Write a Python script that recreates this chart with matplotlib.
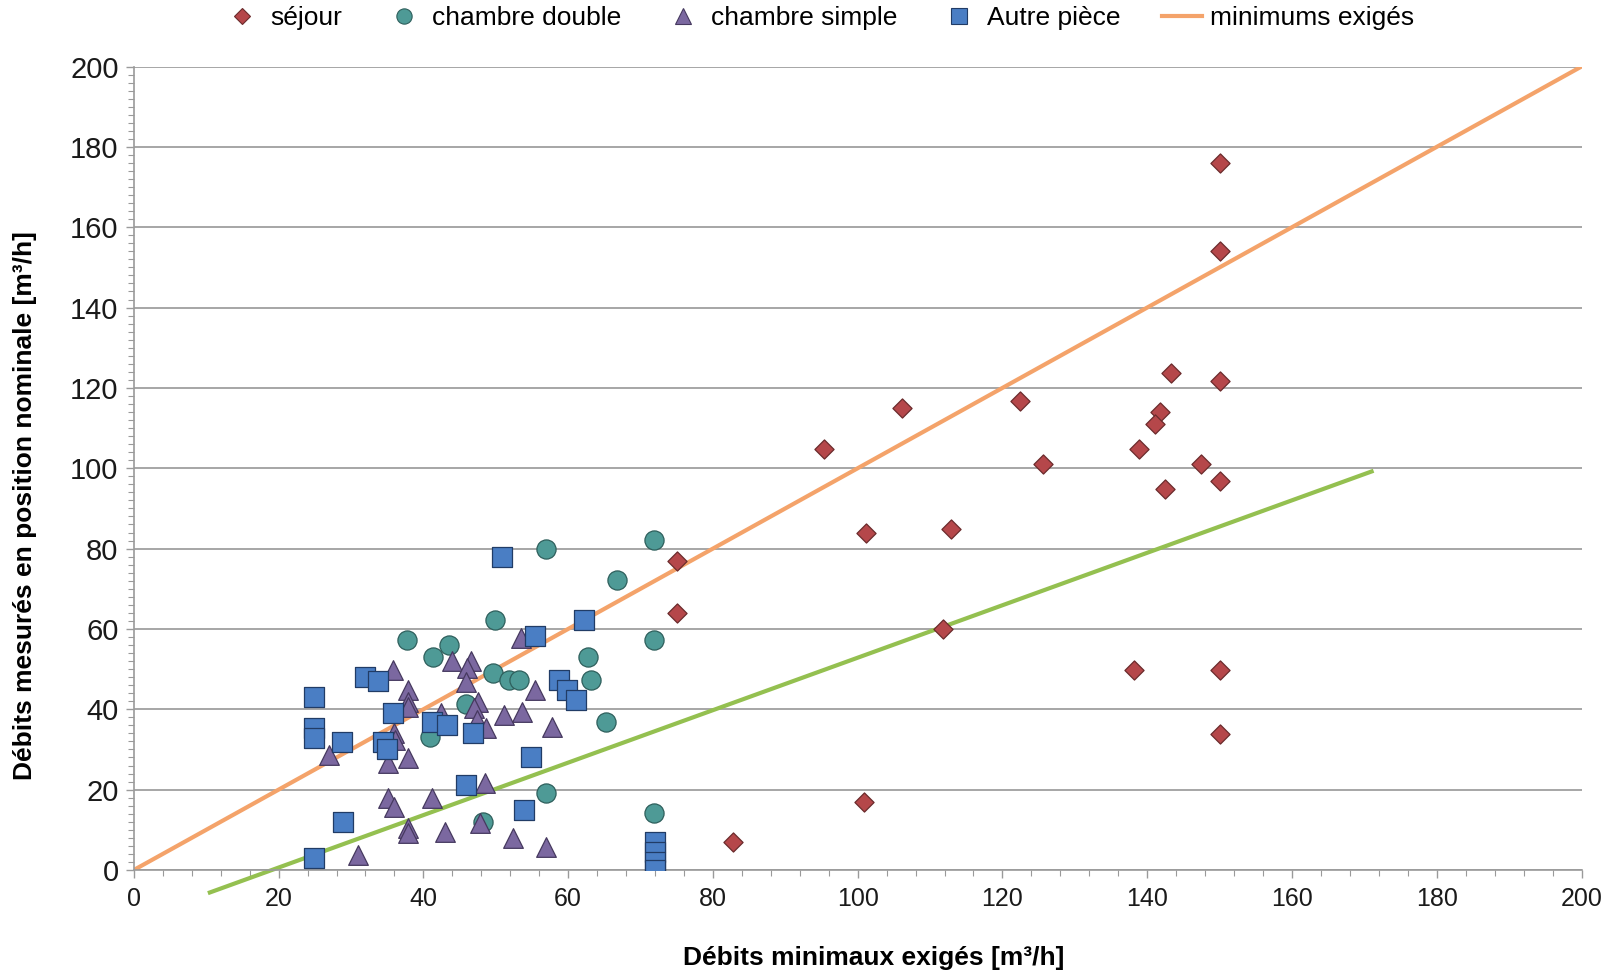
import matplotlib
matplotlib.use("Agg")
import matplotlib.pyplot as plt
from matplotlib.ticker import MultipleLocator
from matplotlib.lines import Line2D

plt.rcParams['font.family'] = ['Liberation Sans', 'DejaVu Sans']

# Living rooms
sejour_x = [150, 150, 143.3, 150, 106.1, 122.4, 141.7, 141.1, 95.4, 138.9, 125.6, 147.4,
            150, 142.4, 101.2, 112.9, 75, 75, 111.8, 138.2, 150, 150, 100.9, 82.8]
sejour_y = [176, 154, 123.6, 121.7, 115.1, 116.7, 113.9, 110.9, 104.7, 104.7, 101.1, 101.1,
            96.8, 94.8, 84, 84.9, 76.9, 64, 59.9, 49.9, 49.9, 33.8, 16.8, 6.9]

# Double bedrooms
double_x = [56.9, 71.9, 66.8, 49.9, 37.7, 43.6, 71.9, 41.3, 62.7, 49.6, 51.8, 53.2, 63.1,
            45.9, 65.2, 40.9, 56.9, 48.2, 71.9]
double_y = [80, 82.1, 72.2, 62.2, 57.2, 56, 57.2, 53.1, 53.1, 49, 47.3, 47.3, 47.3,
            41.2, 36.9, 33.2, 19.1, 12, 14.1]

# Single bedrooms
simple_x = [53.5, 35.8, 43.9, 46.6, 46.0, 45.9, 37.9, 37.9, 37.9, 55.4, 47.6, 47.0, 42.4,
            51.2, 53.6, 47.4, 48.6, 57.7, 35.9, 36.1, 27.0, 37.9, 35.1, 48.5, 35.1, 35.9,
            41.2, 37.9, 37.9, 43.0, 47.8, 52.4, 57.0, 31.0]
simple_y = [57.7, 49.8, 51.9, 51.9, 50.2, 46.9, 44.8, 41.9, 40.5, 44.8, 41.9, 40.2, 39.0,
            38.6, 39.4, 37.3, 35.3, 35.7, 34.0, 32.4, 28.6, 27.8, 26.6, 21.6, 17.8, 15.8,
            17.8, 10.4, 9.2, 9.5, 11.6, 7.9, 5.8, 3.7]

# Other rooms
autre_x = [50.9, 62.2, 55.4, 31.9, 33.7, 24.9, 58.8, 59.8, 61.1, 35.8, 24.9, 24.9, 28.7,
           34.4, 35.0, 41.2, 43.3, 46.8, 54.8, 45.9, 53.9, 28.9, 24.9, 72, 72, 72, 72]
autre_y = [77.8, 62.2, 58.2, 48.1, 47.1, 43.1, 47.3, 44.8, 42.3, 39.0, 35.3, 32.8, 31.9,
           31.9, 30.0, 36.9, 36.1, 34.0, 28.2, 21.2, 14.9, 12.0, 2.9, 7, 4.5, 2, 0]

# Required minimum (y = x) and lower trend line
minimum_x = [0, 200]
minimum_y = [0, 200]
trend_x = [10.5, 171]
trend_y = [-5.6, 99.2]

fig = plt.figure(figsize=(16.03, 9.74), dpi=100)
ax = fig.add_axes([0.0835, 0.1068, 0.9031, 0.8249])

ax.set_xlim(0, 200)
ax.set_ylim(0, 200)

ax.yaxis.set_major_locator(MultipleLocator(20))
ax.yaxis.set_minor_locator(MultipleLocator(2))
ax.xaxis.set_major_locator(MultipleLocator(20))
ax.xaxis.set_minor_locator(MultipleLocator(4))
ax.grid(axis='y', which='major', color='#a6a6a6', linewidth=1.4)
ax.set_axisbelow(True)

for s in ['top', 'right']:
    ax.spines[s].set_visible(False)
for s in ['left', 'bottom']:
    ax.spines[s].set_color('#9a9a9a')
    ax.spines[s].set_linewidth(1.2)

ax.tick_params(axis='both', which='major', direction='out', length=6, width=1,
               color='#9a9a9a', labelcolor='#1a1a1a', pad=6)
ax.tick_params(axis='x', which='major', labelsize=18)
ax.tick_params(axis='y', which='major', labelsize=21, pad=5)
ax.tick_params(axis='both', which='minor', direction='out', length=4, width=0.8,
               color='#9a9a9a')

ax.plot(minimum_x, minimum_y, color='#f4a36a', linewidth=3, zorder=2)
ax.plot(trend_x, trend_y, color='#94c050', linewidth=3, zorder=2, clip_on=False)

ax.scatter(sejour_x, sejour_y, marker='D', s=95, color='#b5474a', edgecolors='#6b2b2c',
           linewidths=0.9, zorder=3)
ax.scatter(double_x, double_y, marker='o', s=190, color='#4e9a96', edgecolors='#2e5f5c',
           linewidths=0.9, zorder=3)
ax.scatter(simple_x, simple_y, marker='^', s=200, color='#7b68a0', edgecolors='#46395f',
           linewidths=0.9, zorder=3)
ax.scatter(autre_x, autre_y, marker='s', s=190, color='#4a7ec4', edgecolors='#213c66',
           linewidths=0.9, zorder=4)

ax.set_xlabel('Débits minimaux exigés [m³/h]', fontsize=19, fontweight='bold')
ax.xaxis.set_label_coords(0.511, -0.095)
ax.set_ylabel('Débits mesurés en position nominale [m³/h]', fontsize=19,
              fontweight='bold')
ax.yaxis.set_label_coords(-0.067, 0.453)

handles = [
    Line2D([], [], linestyle='none', marker='D', markersize=8, color='#b5474a',
           markeredgecolor='#6b2b2c', markeredgewidth=0.8),
    Line2D([], [], linestyle='none', marker='o', markersize=11, color='#4e9a96',
           markeredgecolor='#2e5f5c', markeredgewidth=0.8),
    Line2D([], [], linestyle='none', marker='^', markersize=11, color='#7b68a0',
           markeredgecolor='#46395f', markeredgewidth=0.8),
    Line2D([], [], linestyle='none', marker='s', markersize=11, color='#4a7ec4',
           markeredgecolor='#213c66', markeredgewidth=0.8),
    Line2D([], [], color='#f4a36a', linewidth=3),
]
labels = ['séjour', 'chambre double', 'chambre simple', 'Autre pièce', 'minimums exigés']
fig.legend(handles, labels, loc='upper center', bbox_to_anchor=(0.5105, 1.018), ncol=5,
           frameon=False, fontsize=19, handlelength=1.5, handletextpad=0.3,
           columnspacing=1.6)

fig.savefig('out.png', dpi=100, facecolor='white')
